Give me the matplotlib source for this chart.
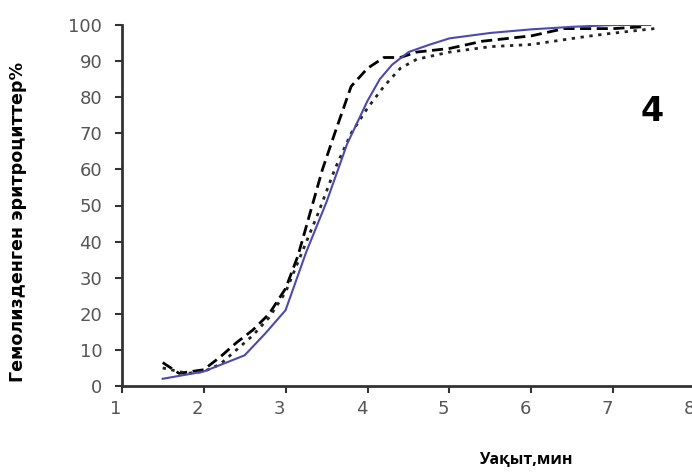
import matplotlib
matplotlib.use('Agg')
import matplotlib.pyplot as plt
import matplotlib.transforms as mtransforms

# Кривые гемолиза (шкала: время, мин / % гемолизденген эритроциттер)
blue_x = [1.5, 2.0, 2.5, 2.75, 3.0, 3.25, 3.5, 3.75, 4.0, 4.15, 4.3, 4.5, 4.75, 5.0, 5.5, 6.0, 6.5, 7.0, 7.45]
blue_y = [2, 4, 8.5, 14.5, 21, 37, 51, 67, 79, 85, 89, 92.5, 94.5, 96.3, 97.8, 98.8, 99.5, 100, 100]

dash_x = [1.5, 1.7, 2.0, 2.2, 2.4, 2.6, 2.8, 3.0, 3.15, 3.3, 3.45, 3.6, 3.8, 4.0, 4.2, 4.4, 4.6, 5.0, 5.4, 6.0, 6.4, 7.0, 7.35]
dash_y = [6.5, 3.5, 4.5, 8, 12, 15.5, 20, 27, 36, 48, 60, 70, 83, 88, 91, 91, 92.5, 93.5, 95.5, 97, 99, 99, 99.5]

dot_x = [1.5, 1.8, 2.0, 2.2, 2.4, 2.6, 2.8, 3.0, 3.2, 3.4, 3.6, 3.8, 4.0, 4.2, 4.4, 4.6, 5.0, 5.5, 6.0, 6.3, 6.6, 6.9, 7.3, 7.5]
dot_y = [5, 3.5, 4, 6, 10, 14, 19, 26, 37, 48, 60, 70, 77, 83, 88, 90.5, 92.5, 94, 94.6, 95.6, 96.6, 97.5, 98.5, 99]

x_ticks = [1, 2, 3, 4, 5, 6, 7, 8]
y_ticks = [0, 10, 20, 30, 40, 50, 60, 70, 80, 90, 100]

fig = plt.figure(figsize=(6.92, 4.75), dpi=100)
ax = fig.add_axes([121.7 / 692, 89 / 475, 573.6 / 692, 361 / 475])

ax.plot(dash_x, dash_y, color='black', lw=2.0, ls=(0, (4, 2)))
ax.plot(dot_x, dot_y, color='#222222', lw=2.0, ls=(0, (1.2, 2)))
ax.plot(blue_x, blue_y, color='#4a4ab0', lw=1.5)

ax.set_xlim(1, 8)
ax.set_ylim(0, 100)
ax.set_xticks(x_ticks)
ax.set_yticks(y_ticks)
ax.tick_params(direction='out', length=5, width=1.5, color='#333333',
               labelsize=13, labelcolor='#555555')
ax.tick_params(axis='y', pad=9)
ax.tick_params(axis='x', pad=5)
shift = mtransforms.ScaledTranslation(-6 / 100, 0, fig.dpi_scale_trans)
for lbl in ax.get_xticklabels():
    lbl.set_transform(lbl.get_transform() + shift)
for s in ['top', 'right']:
    ax.spines[s].set_visible(False)
for s in ['left', 'bottom']:
    ax.spines[s].set_linewidth(2)
    ax.spines[s].set_color('#333333')
ax.spines['left'].set_bounds(0, 100)

ax.text(7.47, 76, '4', fontsize=24, fontweight='bold', ha='center', va='center')

fig.text(18 / 692, 1 - 222 / 475, 'Гемолизденген эритроциттер%', rotation=90,
         fontsize=12.6, fontweight='bold', ha='center', va='center')
fig.text(526 / 692, 1 - 460 / 475, 'Уақыт,мин', family='Open Sans',
         fontsize=11.5, fontweight='bold', ha='center', va='center')

fig.savefig('out.png', dpi=100)
